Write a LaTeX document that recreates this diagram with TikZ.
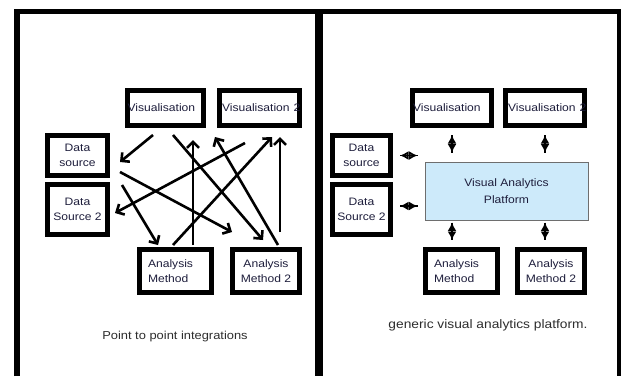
\documentclass[tikz,border=0pt]{standalone}
\usepackage{fontspec}
\setmainfont{Liberation Sans}
\usetikzlibrary{arrows.meta,calc}
\definecolor{txt}{RGB}{30,30,60}
\definecolor{captxt}{RGB}{45,45,45}
\definecolor{vapfill}{RGB}{205,234,250}
\definecolor{vapline}{RGB}{110,110,110}
\newcommand{\sx}[1]{\scalebox{1.12}[1]{#1}}
\begin{document}
\begin{tikzpicture}[x=1pt,y=-1pt,
  frame/.style={line width=5.6pt, line join=miter, line cap=butt},
  bx/.style={draw, line width=5pt, inner xsep=0pt, inner ysep=0pt,
    font=\fontsize{10.8}{15.5}\selectfont, text=txt, align=center},
  capt/.style={font=\fontsize{11.5}{14}\selectfont, text=captxt, inner sep=0pt},
  arr/.style={line width=2.6pt, -{Straight Barb[length=6pt,width=12pt]}},
  dbl/.style={line width=1.8pt, {Latex[open,length=8.5pt,width=9pt]}-{Latex[open,length=8.5pt,width=9pt]}},
  dblline/.style={line width=1.4pt}]
\useasboundingbox (0,0) rectangle (621,376);
\fill[white] (0,0) rectangle (621,376);
% frames
\draw[frame] (17,376) -- (17,11.5) -- (619.5,11.5) -- (619.5,376);
\draw[frame, line width=7.5pt] (318.8,11.5) -- (318.8,376);

% ---------- left panel ----------
\node[bx, minimum width=76pt, minimum height=35pt, text width=76pt, align=left] (lvis) at (165.5,108) {\sx{Visualisation}};
\node[bx, minimum width=80pt, minimum height=35pt, text width=75pt, align=left] (lvis2) at (259.5,108) {\sx{Visualisation 2}};
\node[bx, minimum width=60pt, minimum height=40pt] (lds) at (77.5,155.5) {\sx{Data}\\\sx{source}};
\node[bx, minimum width=60pt, minimum height=50pt] (lds2) at (77.5,209.5) {\sx{Data}\\\sx{Source 2}};
\node[bx, minimum width=72pt, minimum height=43pt, text width=55pt, align=left] (lam) at (175.5,271) {\sx{Analysis}\\\sx{Method}};
\node[bx, minimum width=67pt, minimum height=43pt] (lam2) at (266,271) {\sx{Analysis}\\\sx{Method 2}};

\draw[arr] ([shift={(-12.5,7)}]lvis.south) -- ([shift={(10,6.5)}]lds.east);
\draw[arr] ([shift={(7.5,7)}]lvis.south) -- ([shift={(-3,-7)}]lam2.north);
\draw[arr] ([shift={(10,16.5)}]lds.east) -- ([shift={(2,-15)}]lam2.north west);
\draw[arr] ([shift={(12,3)}]lds2.north east) -- ([shift={(-17.5,-2)}]lam.north);
\draw[arr] ([shift={(17.5,-2)}]lam.north) -- ([shift={(27.5,12)}]lvis.south);
\draw[arr] ([shift={(-2.5,-2)}]lam.north) -- ([shift={(12.5,9)}]lvis2.south);
\draw[arr] ([shift={(-14.5,15)}]lvis2.south) -- ([shift={(5,3.5)}]lds2.east);
\draw[arr] ([shift={(12,-2)}]lam2.north) -- ([shift={(-44.5,9)}]lvis2.south);
\draw[arr] ([shift={(14,-15)}]lam2.north) -- ([shift={(20.5,9)}]lvis2.south);

\node[capt] (lcap) at (175,337) {\sx{Point to point integrations}};

% ---------- right panel ----------
\node[bx, minimum width=79pt, minimum height=35pt, text width=78pt, align=left] (rvis) at (452,108) {\sx{Visualisation}};
\node[bx, minimum width=79pt, minimum height=35pt, text width=74pt, align=left] (rvis2) at (545,108) {\sx{Visualisation 2}};
\node[bx, minimum width=58pt, minimum height=40pt] (rds) at (361.5,155.5) {\sx{Data}\\\sx{source}};
\node[bx, minimum width=58pt, minimum height=50pt] (rds2) at (361.5,209.5) {\sx{Data}\\\sx{Source 2}};
\node[draw=vapline, fill=vapfill, line width=1pt, minimum width=163pt, minimum height=58pt,
      inner sep=0pt, font=\fontsize{10.8}{17}\selectfont, text=txt, align=center] (vap) at (506.5,191)
      {\sx{Visual Analytics}\\\sx{Platform}};
\node[bx, minimum width=72pt, minimum height=43pt, text width=55pt, align=left] (ram) at (461.5,271) {\sx{Analysis}\\\sx{Method}};
\node[bx, minimum width=67pt, minimum height=43pt] (ram2) at (551,271) {\sx{Analysis}\\\sx{Method 2}};

\foreach \st in {dbl, dblline}{
  \draw[\st] ($(rvis.south)+(0,7)$) -- ($(rvis.south |- vap.north)+(0,-9)$);
  \draw[\st] ($(rvis2.south)+(0,7)$) -- ($(rvis2.south |- vap.north)+(0,-9)$);
  \draw[\st] ($(vap.south -| rvis.south)+(0,2)$) -- ($(ram.north -| rvis.south)+(0,-7)$);
  \draw[\st] ($(vap.south -| rvis2.south)+(0,2)$) -- ($(ram2.north -| rvis2.south)+(0,-7)$);
  \draw[\st] ($(rds.east)+(7,0)$) -- ($(rds.east -| vap.west)+(-7,0)$);
  \draw[\st] ($(rds2.east)+(7,-3.5)$) -- ($(rds2.east -| vap.west)+(-7,-3.5)$);
}

\node[capt, font=\fontsize{12.3}{14}\selectfont] (rcap) at (488,325) {\sx{generic visual analytics platform.}};
\end{tikzpicture}
\end{document}
